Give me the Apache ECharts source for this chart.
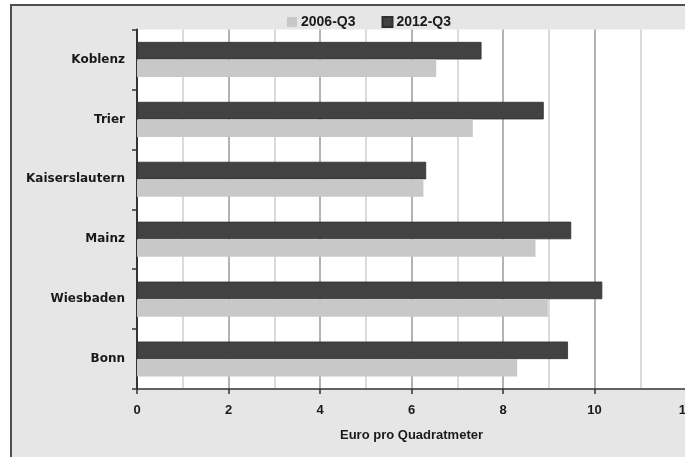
<!DOCTYPE html>
<html>
<head>
<meta charset="utf-8">
<script src="https://cdn.jsdelivr.net/npm/echarts@6/dist/echarts.min.js"></script>
<style>
html,body{margin:0;padding:0;background:#fff;overflow:hidden;width:685px;height:457px;}
#frame{position:absolute;left:10px;top:4px;width:700px;height:480px;background:#e6e6e6;border-left:2px solid #505050;border-top:2px solid #505050;}
#chart{position:absolute;left:0;top:0;width:685px;height:457px;}
</style>
</head>
<body>
<div id="frame"></div>
<div id="chart"></div>
<script>
const categories = ['Koblenz', 'Trier', 'Kaiserslautern', 'Mainz', 'Wiesbaden', 'Bonn'];
const values2006 = [6.54, 7.34, 6.26, 8.71, 8.98, 8.31];
const values2012 = [7.53, 8.89, 6.32, 9.49, 10.17, 9.42];
const xTicks = [0, 2, 4, 6, 8, 10, 12];

const chart = echarts.init(document.getElementById('chart'));
chart.setOption({
  animation: false,
  backgroundColor: 'transparent',
  legend: {
    left: 282,
    top: 10,
    itemWidth: 10,
    itemHeight: 10,
    itemGap: 26,
    icon: 'rect',
    data: ['2006-Q3', '2012-Q3'],
    textStyle: { fontFamily: 'Liberation Sans', fontWeight: 'bold', fontSize: 14, color: '#1a1a1a', padding: [0, 0, 0, -1] }
  },
  grid: {
    left: 137, right: -1, top: 29.5, bottom: 68,
    outerBoundsMode: 'none',
    containLabel: false,
    show: true, backgroundColor: '#ffffff', borderWidth: 0
  },
  xAxis: {
    type: 'value',
    min: xTicks[0],
    max: xTicks[xTicks.length - 1],
    interval: 2,
    name: 'Euro pro Quadratmeter',
    nameLocation: 'middle',
    nameGap: 40,
    nameTextStyle: { fontFamily: 'Liberation Sans', fontWeight: 'bold', fontSize: 13, color: '#1a1a1a' },
    axisLine: { show: true, lineStyle: { color: '#333', width: 1.5 } },
    axisTick: { show: true, length: 5, lineStyle: { color: '#333', width: 1.5 } },
    axisLabel: { fontFamily: 'Liberation Sans', fontWeight: 'bold', fontSize: 13, color: '#1a1a1a', margin: 15 },
    splitLine: { show: true, lineStyle: { color: '#9a9a9a', width: 1.5 } },
    minorTick: { show: false, splitNumber: 2 },
    minorSplitLine: { show: true, lineStyle: { color: '#cfcfcf', width: 1.5 } }
  },
  yAxis: {
    type: 'category',
    data: categories,
    inverse: true,
    axisLine: { show: true, lineStyle: { color: '#333', width: 2 } },
    axisTick: { show: true, length: 5, lineStyle: { color: '#333', width: 1.5 } },
    axisLabel: { fontFamily: 'DejaVu Sans', fontWeight: 'bold', fontSize: 12, color: '#1a1a1a', margin: 12 },
    splitLine: { show: false }
  },
  series: [
    {
      name: '2012-Q3', type: 'bar', data: values2012,
      barWidth: 17.5, barGap: '0%',
      itemStyle: { color: '#424242', borderColor: '#2e2e2e', borderWidth: 0.8 }
    },
    {
      name: '2006-Q3', type: 'bar', data: values2006,
      barWidth: 17.5, barGap: '0%',
      itemStyle: { color: '#c8c8c8' }
    }
  ]
});
</script>
</body>
</html>
